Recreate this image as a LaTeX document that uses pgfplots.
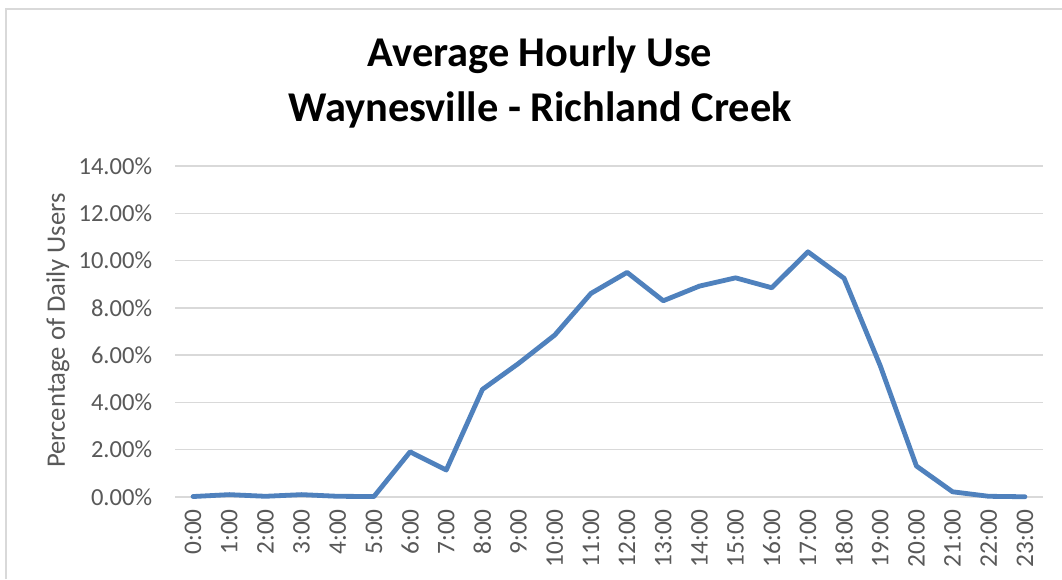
\documentclass[border=0pt]{standalone}
\usepackage{fontspec}
\setmainfont{Carlito}
\usepackage{pgfplots}
\pgfplotsset{compat=1.18}
\definecolor{lineblue}{HTML}{4F81BD}
\definecolor{gridgray}{HTML}{D9D9D9}
\definecolor{labelgray}{HTML}{595959}
\begin{document}
\begin{tikzpicture}
\useasboundingbox (0,0) rectangle (796.5pt,434.25pt);
\fill[white] (0,0) rectangle (796.5pt,434.25pt);
\draw[gridgray, line width=1.2pt] (4.5pt,0) -- (4.5pt,427.5pt) -- (796.5pt,427.5pt);
\begin{axis}[
  at={(131.25pt,61.5pt)}, anchor=south west,
  scale only axis, width=651pt, height=248.25pt,
  xmin=-0.5, xmax=23.5, ymin=0, ymax=14,
  axis line style={draw=none},
  tick style={draw=none},
  xtick={0,...,23},
  xticklabels={0:00,1:00,2:00,3:00,4:00,5:00,6:00,7:00,8:00,9:00,10:00,11:00,12:00,13:00,14:00,15:00,16:00,17:00,18:00,19:00,20:00,21:00,22:00,23:00},
  xticklabel style={rotate=90, anchor=east, font=\fontsize{19pt}{21pt}\selectfont, text=labelgray, inner sep=0pt},
  xticklabel shift={9pt},
  ytick={0,2,...,14},
  yticklabel={\pgfmathprintnumber[fixed,fixed zerofill,precision=2]{\tick}\%},
  /pgf/number format/assume math mode=true,
  yticklabel style={font=\fontsize{18.4pt}{20pt}\selectfont, text=labelgray, anchor=east, inner sep=0pt},
  yticklabel shift={17pt},
  ymajorgrids, grid style={gridgray, line width=1.1pt},
  clip=false,
]
\addplot[lineblue, line width=3.6pt, line join=round, line cap=round] coordinates {
(0,0.02) (1,0.10) (2,0.03) (3,0.10) (4,0.03) (5,0.02) (6,1.91) (7,1.14)
(8,4.55) (9,5.65) (10,6.85) (11,8.61) (12,9.50) (13,8.30) (14,8.92) (15,9.27)
(16,8.85) (17,10.37) (18,9.25) (19,5.55) (20,1.31) (21,0.22) (22,0.03) (23,0.01)
};
\end{axis}
\node[rotate=90, font=\fontsize{20pt}{22pt}\selectfont, text=labelgray] at (43.5pt,186.4pt) {Percentage of Daily Users};
\node[font=\fontsize{31.8pt}{34pt}\selectfont\bfseries] at (405pt,392.5pt) {Average Hourly Use};
\node[font=\fontsize{31.8pt}{34pt}\selectfont\bfseries] at (405pt,352pt) {Waynesville - Richland Creek};
\end{tikzpicture}
\end{document}
